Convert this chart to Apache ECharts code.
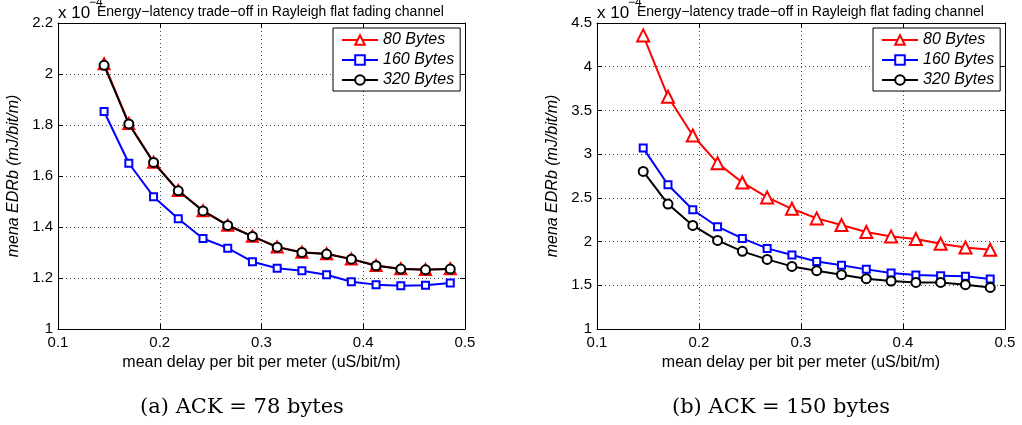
<!DOCTYPE html>
<html>
<head>
<meta charset="utf-8">
<script src="https://cdn.jsdelivr.net/npm/echarts@6/dist/echarts.min.js"></script>
<style>
html,body{margin:0;padding:0;background:#fff;}
#chart{width:1022px;height:425px;}
</style>
</head>
<body>
<div id="chart"></div>
<script>
// ---- data (values in units of 1e-4 mJ/bit/m) ----
const delay = [0.1453, 0.1696, 0.1939, 0.2182, 0.2425, 0.2668, 0.2911, 0.3154, 0.3397, 0.3640, 0.3883, 0.4126, 0.4369, 0.4612, 0.4855];
const seriesNames = ['80 Bytes', '160 Bytes', '320 Bytes'];

// (a) ACK = 78 bytes
const ackA_80  = [2.040, 1.806, 1.654, 1.543, 1.464, 1.407, 1.364, 1.322, 1.301, 1.295, 1.275, 1.249, 1.236, 1.233, 1.236];
const ackA_160 = [1.853, 1.650, 1.519, 1.432, 1.355, 1.317, 1.264, 1.238, 1.228, 1.213, 1.185, 1.174, 1.170, 1.172, 1.180];
const ackA_320 = [2.034, 1.804, 1.653, 1.542, 1.463, 1.406, 1.363, 1.321, 1.300, 1.294, 1.274, 1.248, 1.235, 1.232, 1.235];

// (b) ACK = 150 bytes
const ackB_80  = [4.358, 3.657, 3.213, 2.897, 2.676, 2.505, 2.375, 2.265, 2.189, 2.109, 2.059, 2.029, 1.975, 1.933, 1.907];
const ackB_160 = [3.069, 2.650, 2.364, 2.170, 2.036, 1.922, 1.846, 1.773, 1.728, 1.682, 1.640, 1.617, 1.610, 1.602, 1.571];
const ackB_320 = [2.802, 2.429, 2.185, 2.013, 1.888, 1.796, 1.716, 1.667, 1.621, 1.575, 1.549, 1.533, 1.533, 1.507, 1.476];

// tick definitions
const xTicks  = [0.1, 0.2, 0.3, 0.4, 0.5];
const yTicksA = [1, 1.2, 1.4, 1.6, 1.8, 2, 2.2];
const yTicksB = [1, 1.5, 2, 2.5, 3, 3.5, 4, 4.5];

const titleText = 'Energy\u2212latency trade\u2212off in Rayleigh flat fading channel';
const xName = 'mean delay per bit per meter (uS/bit/m)';
const yName = 'mena EDRb (mJ/bit/m)';
const captions = ['(a) ACK = 78 bytes', '(b) ACK = 150 bytes'];

// ---- chart ----
const FONT = '"Liberation Sans", Arial, Helvetica, sans-serif';
const chart = echarts.init(document.getElementById('chart'), null, {renderer: 'canvas'});

function pair(xs, ys) { return xs.map((x, i) => [x, ys[i]]); }

function axisPair(kind, gridIndex, ticks, showLabels, name) {
  const step = +(ticks[1] - ticks[0]).toFixed(6);
  const base = {
    type: 'value', gridIndex: gridIndex,
    min: ticks[0], max: ticks[ticks.length - 1], interval: step,
    axisLine: {show: true, onZero: false, lineStyle: {color: '#000', width: 1}},
    axisTick: {show: true, inside: true, length: 5, lineStyle: {color: '#000', width: 1}},
    splitLine: {show: false}
  };
  const main = Object.assign({}, base, {
    position: kind === 'x' ? 'bottom' : 'left',
    axisLabel: {show: true, color: '#000', fontSize: 15, fontFamily: FONT,
                margin: kind === 'x' ? 6 : 5},
    splitLine: {show: true, lineStyle: {color: '#444', type: [1, 3], width: 1}},
    name: name,
    nameLocation: 'middle',
    nameGap: kind === 'x' ? 25 : 36,
    nameTextStyle: kind === 'x'
      ? {color: '#000', fontSize: 16, fontFamily: FONT}
      : {color: '#000', fontSize: 16, fontFamily: FONT, fontStyle: 'italic'}
  });
  const mirror = Object.assign({}, base, {
    position: kind === 'x' ? 'top' : 'right',
    axisLabel: {show: false}
  });
  return [main, mirror];
}

const styles = [
  {color: '#ff0000', symbol: 'emptyTriangle', size: [11, 12]},
  {color: '#0000ff', symbol: 'emptyRect', size: [7, 7]},
  {color: '#000000', symbol: 'emptyCircle', size: [9, 9]}
];

function makeSeries(axisIdx, arrays, sizeIdx) {
  return arrays.map((arr, i) => ({
    name: seriesNames[i],
    type: 'line',
    xAxisIndex: axisIdx, yAxisIndex: axisIdx,
    data: pair(delay, arr),
    symbol: styles[i].symbol,
    symbolSize: styles[i].size[sizeIdx],
    showAllSymbol: true,
    animation: false,
    lineStyle: {color: styles[i].color, width: 2},
    itemStyle: {color: styles[i].color, borderColor: styles[i].color, borderWidth: 2},
    emphasis: {disabled: true},
    z: 2 + i
  }));
}

function makeLegend(left) {
  return {
    left: left, top: 28,
    orient: 'vertical',
    data: seriesNames,
    backgroundColor: '#fff',
    borderColor: '#000', borderWidth: 1,
    padding: [4, 6, 3, 8],
    itemGap: 4,
    itemWidth: 36, itemHeight: 12,
    selectedMode: false,
    textStyle: {color: '#000', fontSize: 16, fontStyle: 'italic', fontFamily: FONT, lineHeight: 16}
  };
}

const xa = axisPair('x', 0, xTicks, true, xName);
const ya = axisPair('y', 0, yTicksA, true, yName);
const xb = axisPair('x', 1, xTicks, true, xName);
const yb = axisPair('y', 1, yTicksB, true, yName);

function txt(x, y, text, font, align, vAlign) {
  return {type: 'text', x: x, y: y, silent: true,
    style: {text: text, font: font, fill: '#000',
            textAlign: align || 'left', textVerticalAlign: vAlign || 'middle',
            align: align || 'left', verticalAlign: vAlign || 'middle'}};
}

const option = {
  animation: false,
  backgroundColor: '#fff',
  grid: [
    {left: 58, right: 557, top: 23, bottom: 96, containLabel: false},
    {left: 597, right: 17, top: 23, bottom: 96, containLabel: false}
  ],
  xAxis: [xa[0], xa[1], xb[0], xb[1]],
  yAxis: [ya[0], ya[1], yb[0], yb[1]],
  legend: [makeLegend(333), makeLegend(873)],
  series: [].concat(
    makeSeries(0, [ackA_80, ackA_160, ackA_320], 0),
    makeSeries(2, [ackB_80, ackB_160, ackB_320], 1)
  ),
  graphic: [
    txt(58, 13, 'x 10', '17px ' + FONT),
    txt(89, 3, '\u22124', '12px ' + FONT),
    txt(97, 12, titleText, '14px ' + FONT),
    txt(597, 13, 'x 10', '17px ' + FONT),
    txt(628, 3, '\u22124', '12px ' + FONT),
    txt(637, 12, titleText, '14px ' + FONT),
    txt(242, 408, captions[0], '21px "DejaVu Serif", "Liberation Serif", serif', 'center'),
    txt(781, 408, captions[1], '21px "DejaVu Serif", "Liberation Serif", serif', 'center')
  ]
};
chart.setOption(option);
</script>
</body>
</html>
